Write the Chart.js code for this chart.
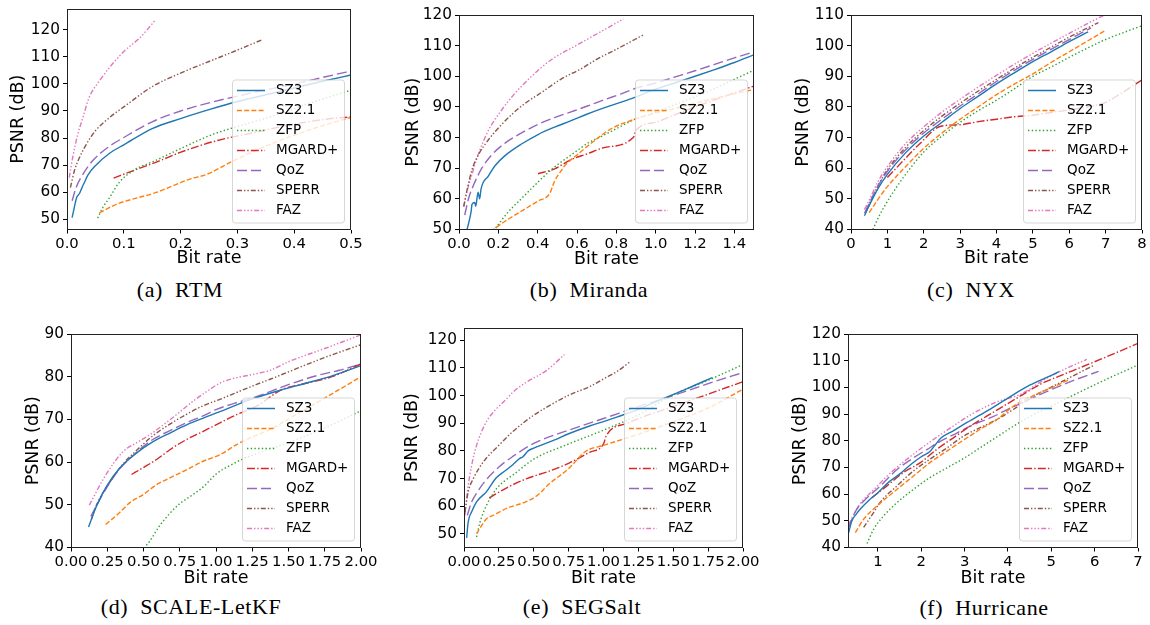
<!DOCTYPE html>
<html>
<head>
<meta charset="utf-8">
<script src="https://cdn.jsdelivr.net/npm/chart.js@4.4.0/dist/chart.umd.min.js"></script>
<style>
  body { margin: 0; background: #fff; width: 1150px; height: 625px; position: relative; overflow: hidden; }
  .panel { position: absolute; }
  .cap { position: absolute; font-family: "Liberation Serif", "DejaVu Serif", serif; font-size: 22px; line-height: 24px;
         transform: translateX(-50%); white-space: nowrap; letter-spacing: 0.6px; word-spacing: 6px; color: #000; }
</style>
</head>
<body>
<script>
// method names, one series per method in every panel
var methods = ["SZ3", "SZ2.1", "ZFP", "MGARD+", "QoZ", "SPERR", "FAZ"];

// (a) RTM
var rtmSZ3 = [[0.009,50.6],[0.012,53.5],[0.017,58],[0.022,59.5],[0.026,61.5],[0.03,63.3],[0.037,66.4],[0.05,69.8],[0.075,74.4],[0.1,77.5],[0.15,83.5],[0.2,87.2],[0.25,90.5],[0.3,93.5],[0.35,96],[0.4,98.5],[0.45,101],[0.5,103.3]];
var rtmSZ21 = [[0.057,52.3],[0.087,55.5],[0.157,59.9],[0.216,64.8],[0.246,66.6],[0.293,71.6],[0.352,77.2],[0.41,81.8],[0.469,85.8],[0.5,87.6]];
var rtmZFP = [[0.054,50.4],[0.063,54.3],[0.075,58],[0.092,63.6],[0.116,67.9],[0.157,71.8],[0.204,76.5],[0.257,81.4],[0.304,84.5],[0.363,88.2],[0.422,92.5],[0.5,97.7]];
var rtmMGARD = [[0.082,65.2],[0.116,67.9],[0.163,71.6],[0.198,74.6],[0.263,79],[0.322,81.7],[0.399,85.1],[0.469,87.3],[0.5,87.8]];
var rtmQoZ = [[0.009,56.8],[0.016,61.7],[0.028,66.6],[0.045,71.6],[0.075,77],[0.1,80.2],[0.15,86],[0.2,90],[0.25,93],[0.3,95.5],[0.35,97.8],[0.4,100],[0.45,102.4],[0.5,104.8]];
var rtmSPERR = [[0.006,61.7],[0.013,67.9],[0.022,72.8],[0.034,77.7],[0.05,82.7],[0.075,87.6],[0.1,91.5],[0.15,99],[0.2,104],[0.25,108.3],[0.3,112.5],[0.343,116.3]];
var rtmFAZ = [[0.004,65.4],[0.01,72.8],[0.019,81.4],[0.028,87.6],[0.039,95],[0.057,101.1],[0.075,106.1],[0.1,112],[0.128,117],[0.156,123.7]];
var rtmXTicks = [0, 0.1, 0.2, 0.3, 0.4, 0.5];
var rtmYTicks = [50, 60, 70, 80, 90, 100, 110, 120];

// (b) Miranda
var mirSZ3 = [[0.041,50],[0.062,56],[0.066,58.2],[0.08,58.8],[0.085,57.6],[0.097,62.2],[0.105,60],[0.112,63.2],[0.15,67.5],[0.183,70.8],[0.234,74.1],[0.318,77.9],[0.402,81],[0.486,83.4],[0.57,85.5],[0.653,87.7],[0.737,89.7],[0.821,91.5],[0.9,93.3],[1.0,95.8],[1.1,97.9],[1.2,100],[1.3,102.2],[1.4,104.5],[1.5,107]];
var mirSZ21 = [[0.16,49.3],[0.234,52.7],[0.318,56],[0.402,59.3],[0.461,61.7],[0.486,65.8],[0.519,69.1],[0.536,70.7],[0.603,74.5],[0.687,78.9],[0.771,82.8],[0.871,85.5],[1.0,88],[1.1,89.5],[1.2,91.2],[1.3,92.8],[1.4,94.3],[1.5,95.7]];
var mirZFP = [[0.175,49.5],[0.25,55.7],[0.318,60.1],[0.402,65.5],[0.486,70.4],[0.57,74.3],[0.653,78.1],[0.737,80.8],[0.821,83.6],[0.888,85.8],[1.0,88.3],[1.1,90.8],[1.2,93.3],[1.3,96],[1.4,99],[1.5,102]];
var mirMGARD = [[0.402,68.2],[0.486,69.8],[0.57,72.8],[0.653,74.7],[0.737,76.7],[0.888,80.2],[0.9,82.4],[1.0,85],[1.1,87.5],[1.2,90],[1.3,92.3],[1.4,94.6],[1.5,96.8]];
var mirQoZ = [[0.029,54.7],[0.049,60.2],[0.074,64.5],[0.116,70],[0.167,74.4],[0.234,78.2],[0.318,81.5],[0.402,84.3],[0.486,86.5],[0.57,88.4],[0.653,90.3],[0.737,92.3],[0.821,94.2],[0.905,96.2],[1.0,97.8],[1.1,99.8],[1.2,101.8],[1.3,103.9],[1.4,106],[1.5,108]];
var mirSPERR = [[0.024,57.5],[0.041,62.9],[0.066,69.5],[0.099,74.4],[0.15,79.3],[0.217,84.3],[0.318,90.3],[0.419,94.7],[0.519,99.1],[0.62,102.4],[0.704,105.7],[0.8,108.8],[0.937,113.5]];
var mirFAZ = [[0.024,57.5],[0.041,62.5],[0.066,68],[0.099,74.7],[0.15,82.4],[0.217,89],[0.284,94.4],[0.368,99.9],[0.469,105.4],[0.6,110.2],[0.7,113.8],[0.836,118.7]];
var mirXTicks = [0, 0.2, 0.4, 0.6, 0.8, 1.0, 1.2, 1.4];
var mirYTicks = [50, 60, 70, 80, 90, 100, 110, 120];

// (c) NYX
var nyxSZ3 = [[0.37,44.5],[0.5,47.8],[0.75,53.5],[1.0,58],[1.5,65],[2.0,70.5],[2.5,75],[3.0,79.5],[3.5,83.5],[4.0,87.5],[4.5,91.2],[5.0,94.8],[5.5,98],[6.0,101.3],[6.52,104.5]];
var nyxSZ21 = [[0.5,45.5],[0.75,50],[1.0,54],[1.5,60.5],[2.0,66.5],[2.5,71.5],[3.0,76],[3.5,80],[4.0,84],[4.5,87.5],[5.0,90.8],[5.5,94.5],[6.0,98],[6.5,101.5],[7.0,105]];
var nyxZFP = [[0.6,40],[0.8,45],[1.07,50.5],[1.44,57],[2.0,65.3],[2.5,70.5],[3.0,75],[3.5,78.8],[4.0,82.2],[4.5,86],[5.0,90],[5.5,93],[6.0,96.2],[6.5,99.2],[7.0,102],[7.5,104.3],[8.0,106.5]];
var nyxMGARD = [[1.0,57],[1.44,62.5],[1.89,68],[2.47,73.7],[3.0,74.2],[3.5,75.2],[4.0,76],[4.5,76.8],[5.0,77.3],[5.5,78.2],[6.0,79],[6.5,80],[7.0,81.5],[7.5,85],[8.0,88.8]];
var nyxQoZ = [[0.37,45.3],[0.5,48.5],[0.75,54.3],[1.0,59],[1.5,66],[2.0,71.5],[2.5,76],[3.0,80.3],[3.5,84.3],[4.0,88.3],[4.5,92],[5.0,95.5],[5.5,98.8],[6.0,102],[6.6,105.8]];
var nyxSPERR = [[0.4,45.5],[0.5,48.3],[0.75,54.5],[1.0,59.5],[1.5,66.8],[2.0,72.3],[2.5,77],[3.0,81.2],[3.5,85.2],[4.0,89],[4.5,92.7],[5.0,96.2],[5.5,99.5],[6.0,102.8],[6.8,107.5]];
var nyxFAZ = [[0.37,46.5],[0.5,49.5],[0.75,55.8],[1.0,60.5],[1.5,68],[2.0,73.5],[2.5,78.3],[3.0,82.5],[3.5,86.5],[4.0,90.3],[4.5,94],[5.0,97.5],[5.5,100.8],[6.0,104],[6.5,107.2],[7.05,110.5]];
var nyxXTicks = [0, 1, 2, 3, 4, 5, 6, 7, 8];
var nyxYTicks = [40, 50, 60, 70, 80, 90, 100, 110];

// (d) SCALE-LetKF
var scaSZ3 = [[0.121,44.8],[0.175,49.6],[0.245,54.3],[0.336,58.6],[0.451,62.1],[0.566,64.8],[0.682,66.8],[0.797,68.7],[0.912,70.3],[1.027,71.8],[1.142,73.4],[1.25,74.8],[1.45,76.9],[1.6,78.3],[1.8,80.2],[2.0,82.6]];
var scaSZ21 = [[0.239,45.4],[0.336,48.2],[0.406,50.5],[0.498,52.4],[0.59,54.7],[0.682,56.3],[0.797,58.2],[0.912,60.2],[1.027,61.7],[1.142,64.1],[1.258,66],[1.373,67.6],[1.489,69.9],[1.75,75],[2.0,80]];
var scaZFP = [[0.52,40.5],[0.542,41.4],[0.607,44.9],[0.682,48],[0.751,50.3],[0.82,51.9],[0.912,54.2],[1.004,57.3],[1.097,59.2],[1.19,60.8],[1.35,62.8],[1.5,64.6],[1.75,68],[2.0,72]];
var scaMGARD = [[0.417,57.1],[0.498,58.7],[0.59,60.6],[0.682,62.9],[0.797,65.3],[0.912,67.2],[1.027,69.2],[1.142,71.1],[1.28,73.1],[1.455,77],[1.6,78.3],[1.8,80],[2.0,83]];
var scaQoZ = [[0.137,47.3],[0.218,52.4],[0.333,58.3],[0.449,62.2],[0.564,65.3],[0.679,67.3],[0.795,69.2],[0.91,70.8],[1.0,72.3],[1.13,73.8],[1.26,75.1],[1.48,77.9],[1.7,80.3],[1.85,81.5],[2.0,83]];
var scaSPERR = [[0.14,46.5],[0.175,49.9],[0.268,55.3],[0.36,59.6],[0.451,62.7],[0.566,66.2],[0.682,68.9],[0.797,71.2],[0.912,73.2],[1.027,74.7],[1.142,76.3],[1.28,78.2],[1.373,79.4],[1.49,81],[1.75,84.5],[2.0,87.5]];
var scaFAZ = [[0.126,49.9],[0.233,56.6],[0.36,62.5],[0.451,64.5],[0.543,66.4],[0.682,69.9],[0.855,74.6],[0.935,76.5],[1.027,78.5],[1.12,79.6],[1.235,80.4],[1.373,81.5],[1.5,83.5],[1.75,86.6],[2.0,89.8]];
var scaXTicks = [0, 0.25, 0.5, 0.75, 1.0, 1.25, 1.5, 1.75, 2.0];
var scaYTicks = [40, 50, 60, 70, 80, 90];

// (e) SEGSalt
var segSZ3 = [[0.019,48.6],[0.03,54.3],[0.055,58],[0.09,61.6],[0.16,65.2],[0.23,70.2],[0.3,73],[0.35,75],[0.4,77.3],[0.42,77.8],[0.46,80],[0.5,81],[0.65,84],[0.75,86.2],[0.9,89],[1.0,90.6],[1.1,92.3],[1.25,95],[1.4,98.3],[1.6,102.5],[1.78,106.5]];
var segSZ21 = [[0.09,50.1],[0.162,55.5],[0.2,56.5],[0.305,59.2],[0.47,62.2],[0.54,64.5],[0.6,67.6],[0.75,73.6],[0.875,79.9],[1.0,82],[1.25,86],[1.5,90.5],[1.75,95.5],[2.0,102.3]];
var segZFP = [[0.09,48.9],[0.115,54.3],[0.162,60.4],[0.234,66.4],[0.3,69.5],[0.353,71.4],[0.5,77],[0.75,82.5],[1.0,87.5],[1.25,93],[1.5,100.3],[1.75,105.5],[2.0,111.2]];
var segMGARD = [[0.18,63],[0.3,66.5],[0.45,70],[0.6,72.5],[0.75,75.5],[0.9,79.5],[1.0,82.5],[1.02,85.5],[1.17,90],[1.5,96],[1.75,100.5],[2.0,105]];
var segQoZ = [[0.024,56.7],[0.05,61],[0.1,65.5],[0.15,69],[0.25,74.2],[0.35,78],[0.5,82.7],[0.75,87.5],[1.0,91.7],[1.25,96],[1.5,100],[1.75,104.3],[2.0,108.3]];
var segSPERR = [[0.007,57.9],[0.03,65.2],[0.067,70],[0.138,76],[0.25,82],[0.35,87],[0.5,92.9],[0.6,96],[0.75,100.1],[0.9,103.2],[1.0,106],[1.1,108.8],[1.19,112.2]];
var segFAZ = [[0.007,56.7],[0.024,65.2],[0.055,74.8],[0.09,82],[0.16,90.5],[0.234,95.3],[0.3,98.5],[0.353,101.3],[0.45,104.9],[0.59,109],[0.72,114.8]];
var segXTicks = [0, 0.25, 0.5, 0.75, 1.0, 1.25, 1.5, 1.75, 2.0];
var segYTicks = [50, 60, 70, 80, 90, 100, 110, 120];

// (f) Hurricane
var hurSZ3 = [[0.32,45.3],[0.4,50],[0.5,52.5],[0.6,54.5],[0.8,57.8],[1.0,60.5],[1.25,64.5],[1.5,67.5],[1.75,71],[2.0,74],[2.2,76],[2.3,78],[2.46,81.1],[2.75,83.8],[3.0,86.3],[3.5,91],[4.0,96],[4.5,100.8],[5.0,104.5],[5.18,105.9]];
var hurSZ21 = [[0.48,45.6],[0.67,50.6],[0.98,55.6],[1.44,61.8],[1.82,66.8],[2.2,71.8],[2.6,76.2],[3.0,80.5],[3.36,84.3],[3.75,88],[4.13,93],[4.6,97],[5.05,100.2],[5.4,102.8]];
var hurZFP = [[0.75,41.5],[0.9,46.8],[1.13,51.8],[1.44,56.8],[1.82,61.8],[2.2,66.2],[2.6,69.9],[3.0,73.6],[3.36,77.4],[3.75,81.5],[4.13,85.5],[4.5,89],[5.0,93],[5.5,97],[6.2,102.5],[7.0,108.4]];
var hurMGARD = [[0.86,58.7],[1.21,63.1],[1.59,68.1],[1.98,71.8],[2.36,76.8],[2.75,81.2],[3.13,85.5],[3.52,89.3],[3.9,93],[4.29,96.8],[4.75,101.2],[5.0,103],[5.5,106.3],[6.0,109.6],[6.5,113],[7.0,116.5]];
var hurQoZ = [[0.32,47.4],[0.5,54],[0.75,58.6],[1.05,63],[1.44,69.2],[1.82,73.6],[2.13,76.7],[2.44,79.8],[2.82,82.9],[3.2,86],[3.67,89.1],[3.9,91],[4.5,95.5],[5.0,99.2],[5.5,102.5],[6.09,106]];
var hurSPERR = [[0.67,47.5],[0.9,53.1],[1.05,56.9],[1.44,63.1],[1.82,68.7],[2.2,73.1],[2.6,77.4],[2.98,81.8],[3.36,84.9],[3.75,88],[4.13,91.8],[4.6,96.8],[5.0,100.1],[5.5,104.3],[6.0,108.4]];
var hurFAZ = [[0.32,48.6],[0.6,56.6],[0.9,61.6],[1.2,66.6],[1.6,72.2],[2.05,77.8],[2.6,84],[3.2,90.3],[3.75,94.6],[4.3,97.5],[4.9,103.5],[5.4,107.5],[5.82,110.5]];
var hurXTicks = [1, 2, 3, 4, 5, 6, 7];
var hurYTicks = [40, 50, 60, 70, 80, 90, 100, 110, 120];

// matplotlib tab10 styling
var colors = ["#1f77b4", "#ff7f0e", "#2ca02c", "#d62728", "#9467bd", "#8c564b", "#e377c2"];
var dashes = [[], [5, 2.2], [1.4, 2.3], [8, 2.2, 1.4, 2.2], [10, 4], [5, 2, 1.4, 2, 1.4, 2], [5, 2, 1.4, 2, 1.4, 2, 1.4, 2]];

// layout of each subplot in page pixels: plot = [left, top, right, bottom]
var panels = [
  { series: [rtmSZ3, rtmSZ21, rtmZFP, rtmMGARD, rtmQoZ, rtmSPERR, rtmFAZ], xr: [0, 0.5], yr: [46.2, 127.7],
    xt: rtmXTicks, yt: rtmYTicks, dec: 1, plot: [67, 9, 351, 229], yTitleX: 18, xTitleY: 258, cap: "(a) RTM", capX: 180, capY: 290 },
  { series: [mirSZ3, mirSZ21, mirZFP, mirMGARD, mirQoZ, mirSPERR, mirFAZ], xr: [0, 1.5], yr: [50, 120],
    xt: mirXTicks, yt: mirYTicks, dec: 1, plot: [459, 15, 754, 229], yTitleX: 413, xTitleY: 259, cap: "(b) Miranda", capX: 589, capY: 290 },
  { series: [nyxSZ3, nyxSZ21, nyxZFP, nyxMGARD, nyxQoZ, nyxSPERR, nyxFAZ], xr: [0, 8], yr: [40, 110],
    xt: nyxXTicks, yt: nyxYTicks, dec: 0, plot: [851, 15, 1142, 229], yTitleX: 803, xTitleY: 258, cap: "(c) NYX", capX: 971, capY: 290 },
  { series: [scaSZ3, scaSZ21, scaZFP, scaMGARD, scaQoZ, scaSPERR, scaFAZ], xr: [0, 2], yr: [40, 90],
    xt: scaXTicks, yt: scaYTicks, dec: 2, plot: [71, 334, 361, 547], yTitleX: 33, xTitleY: 578, cap: "(d) SCALE-LetKF", capX: 191, capY: 607 },
  { series: [segSZ3, segSZ21, segZFP, segMGARD, segQoZ, segSPERR, segFAZ], xr: [0, 2], yr: [45.1, 124.4],
    xt: segXTicks, yt: segYTicks, dec: 2, plot: [464, 328, 743, 547], yTitleX: 412, xTitleY: 578, cap: "(e) SEGSalt", capX: 582, capY: 607 },
  { series: [hurSZ3, hurSZ21, hurZFP, hurMGARD, hurQoZ, hurSPERR, hurFAZ], xr: [0.31, 7], yr: [40, 120],
    xt: hurXTicks, yt: hurYTicks, dec: 0, plot: [848, 334, 1138, 547], yTitleX: 800, xTitleY: 578, cap: "(f) Hurricane", capX: 984, capY: 608 }
];

// frame around the axes plus a matplotlib-like legend box in the lower right
var framePlugin = {
  id: "frameLegend",
  afterDraw: function(chart) {
    var ctx = chart.ctx;
    var a = chart.chartArea;
    ctx.save();
    ctx.strokeStyle = "#222";
    ctx.lineWidth = 1;
    ctx.setLineDash([]);
    ctx.strokeRect(Math.round(a.left) + 0.5, Math.round(a.top) + 0.5,
      Math.round(a.right) - Math.round(a.left) - 1, Math.round(a.bottom) - Math.round(a.top) - 1);

    var w = 112, h = 143;
    var x = a.right - 7 - w, y = a.bottom - 7 - h;
    ctx.beginPath();
    ctx.roundRect(x + 0.5, y + 0.5, w, h, 3);
    ctx.fillStyle = "rgba(255,255,255,0.8)";
    ctx.fill();
    ctx.strokeStyle = "rgba(204,204,204,0.8)";
    ctx.stroke();

    ctx.font = "13.5px 'DejaVu Sans'";
    ctx.textBaseline = "middle";
    chart.data.datasets.forEach(function(ds, i) {
      var cy = Math.round(y + 10.5 + i * 20) + 0.5;
      ctx.beginPath();
      ctx.strokeStyle = ds.borderColor;
      ctx.lineWidth = 1.5;
      ctx.setLineDash(ds.borderDash);
      ctx.moveTo(x + 5, cy);
      ctx.lineTo(x + 33, cy);
      ctx.stroke();
      ctx.setLineDash([]);
      ctx.fillStyle = "#000";
      ctx.fillText(ds.label, x + 44, cy);
    });
    ctx.restore();
  }
};

function toPoints(list) {
  return list.map(function(p) { return { x: p[0], y: p[1] }; });
}

panels.forEach(function(p) {
  var cl = Math.round(p.yTitleX - 12.5);
  var ct = p.plot[1] - 16;
  var cw = p.plot[2] + 24 - cl;
  var xH = p.xTitleY - p.plot[3] + 11.5;
  var ch = Math.round(p.plot[3] + xH - ct);
  var yW = p.plot[0] - cl;

  var div = document.createElement("div");
  div.className = "panel";
  div.style.left = cl + "px";
  div.style.top = ct + "px";
  div.style.width = cw + "px";
  div.style.height = ch + "px";
  var canvas = document.createElement("canvas");
  canvas.width = cw;
  canvas.height = ch;
  div.appendChild(canvas);
  document.body.appendChild(div);

  var cap = document.createElement("div");
  cap.className = "cap";
  cap.textContent = p.cap;
  cap.style.left = p.capX + "px";
  cap.style.top = (p.capY - 12) + "px";
  document.body.appendChild(cap);

  var datasets = p.series.map(function(s, i) {
    return {
      label: methods[i],
      data: toPoints(s),
      borderColor: colors[i],
      backgroundColor: colors[i],
      borderDash: dashes[i],
      borderWidth: 1.4,
      pointRadius: 0,
      fill: false,
      cubicInterpolationMode: "monotone"
    };
  });

  var yTickFont = { family: "DejaVu Sans", size: 15.3 };
  var xTickFont = { family: "DejaVu Sans", size: 14.8 };
  var titleFont = { family: "DejaVu Sans", size: 17.5 };

  new Chart(canvas.getContext("2d"), {
    type: "line",
    data: { datasets: datasets },
    plugins: [framePlugin],
    options: {
      responsive: false,
      animation: false,
      events: [],
      layout: { padding: { top: p.plot[1] - ct, right: cl + cw - p.plot[2], left: 0, bottom: 0 } },
      plugins: { legend: { display: false }, tooltip: { enabled: false } },
      scales: {
        x: {
          type: "linear",
          min: p.xr[0],
          max: p.xr[1],
          afterBuildTicks: function(scale) {
            scale.ticks = p.xt.map(function(v) { return { value: v }; });
          },
          afterFit: function(scale) { scale.height = xH; },
          ticks: {
            autoSkip: false, maxRotation: 0, minRotation: 0, padding: 2, color: "#000", font: xTickFont,
            callback: function(v) { return Number(v).toFixed(p.dec); }
          },
          grid: { drawOnChartArea: false, drawTicks: true, tickLength: 4, color: "#000" },
          border: { display: false },
          title: { display: true, text: "Bit rate", color: "#000", font: titleFont, padding: { top: 0, bottom: 1 } }
        },
        y: {
          min: p.yr[0],
          max: p.yr[1],
          afterBuildTicks: function(scale) {
            scale.ticks = p.yt.map(function(v) { return { value: v }; });
          },
          afterFit: function(scale) { scale.width = yW; },
          ticks: {
            autoSkip: false, padding: 3, color: "#000", font: yTickFont,
            callback: function(v) { return String(v); }
          },
          grid: { drawOnChartArea: false, drawTicks: true, tickLength: 4, color: "#000" },
          border: { display: false },
          title: { display: true, text: "PSNR (dB)", color: "#000", font: titleFont, padding: { top: 2, bottom: 0 } }
        }
      }
    }
  });
});
</script>
</body>
</html>
